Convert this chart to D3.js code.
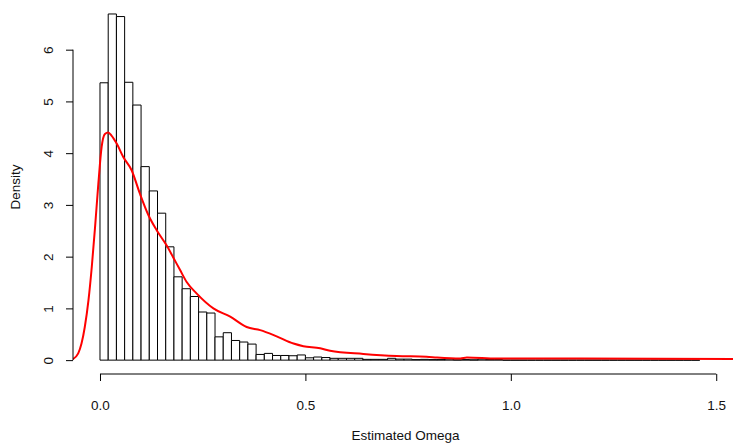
<!DOCTYPE html>
<html>
<head>
<meta charset="utf-8">
<script src="https://cdn.jsdelivr.net/npm/d3@7"></script>
<style>
  body { margin: 0; background: #fff; }
  svg { display: block; font-family: "Liberation Sans", Arial, sans-serif; }
</style>
</head>
<body>
<div id="chart"></div>
<script>
// histogram: bins of width 0.02 starting at 0
const binStart = 0;
const binWidth = 0.02;
const densities = [
  5.36, 6.69, 6.64, 5.37, 4.93, 3.74, 3.27, 2.84, 2.19, 1.61,
  1.38, 1.23, 0.93, 0.91, 0.45, 0.53, 0.38, 0.35, 0.31, 0.11,
  0.13, 0.09, 0.09, 0.085, 0.10, 0.045, 0.06, 0.05, 0.035, 0.035,
  0.035, 0.035, 0.015, 0.015, 0.015, 0.035, 0.02, 0.02, 0.01, 0.015,
  0.01, 0.01, 0.02, 0.005, 0.01, 0.005, 0.02, 0.01, 0.01, 0,
  0, 0, 0, 0, 0, 0, 0, 0, 0, 0,
  0, 0, 0, 0, 0, 0, 0, 0, 0, 0,
  0, 0, 0
];

// kernel density estimate (red line)
const kdeX = [
  -0.066, -0.053, -0.045, -0.037, -0.028, -0.020, -0.012, -0.004, 0.004, 0.012,
  0.020, 0.028, 0.041, 0.057, 0.077, 0.097, 0.118, 0.138, 0.162, 0.178,
  0.195, 0.211, 0.235, 0.276, 0.317, 0.357, 0.390, 0.430, 0.471, 0.495,
  0.536, 0.560, 0.641, 0.722, 0.795, 0.820, 0.877, 0.893, 0.966, 1.170, 1.560
];
const kdeY = [
  0.02, 0.13, 0.32, 0.64, 1.16, 1.80, 2.57, 3.41, 4.12, 4.37,
  4.40, 4.34, 4.18, 3.92, 3.67, 3.22, 2.80, 2.51, 2.22, 1.99,
  1.74, 1.51, 1.29, 1.00, 0.84, 0.64, 0.58, 0.46, 0.32, 0.27,
  0.23, 0.18, 0.12, 0.08, 0.065, 0.05, 0.03, 0.05, 0.03, 0.03, 0.02
];

const xTicks = [0, 0.5, 1, 1.5];
const yTicks = [0, 1, 2, 3, 4, 5, 6];

const width = 733;
const height = 443;
const fontSize = 13.5;

// plot region (R style, 4% padding on the ranges)
const plot = { left: 73, right: 738, top: 0, bottom: 374 };

const x = d3.scaleLinear().domain([-0.0657, 1.553]).range([plot.left, plot.right]);
const y = d3.scaleLinear().domain([-0.268, 6.96]).range([plot.bottom, plot.top]);

const svg = d3.select('#chart')
  .append('svg')
  .attr('width', width)
  .attr('height', height);

svg.append('defs').append('clipPath').attr('id', 'plotclip')
  .append('rect')
  .attr('x', plot.left)
  .attr('y', plot.top)
  .attr('width', plot.right - plot.left)
  .attr('height', plot.bottom - plot.top);

// bars (drawn as closed paths so that empty bins still show on the baseline)
const bins = densities.map((d, i) => ({ x0: binStart + i * binWidth, x1: binStart + (i + 1) * binWidth, d }));

svg.append('g')
  .selectAll('path')
  .data(bins)
  .join('path')
  .attr('d', (b) => `M${x(b.x0)},${y(0)}V${y(b.d)}H${x(b.x1)}V${y(0)}Z`)
  .attr('fill', 'white')
  .attr('stroke', 'black')
  .attr('stroke-width', 1);

// density line
const line = d3.line().x((d) => x(d[0])).y((d) => y(d[1])).curve(d3.curveMonotoneX);

svg.append('path')
  .datum(kdeX.map((v, i) => [v, kdeY[i]]))
  .attr('clip-path', 'url(#plotclip)')
  .attr('d', line)
  .attr('fill', 'none')
  .attr('stroke', 'red')
  .attr('stroke-width', 2);

// x axis
const xAxis = svg.append('g')
  .attr('transform', `translate(0, ${plot.bottom})`)
  .call(d3.axisBottom(x).tickValues(xTicks).tickFormat(d3.format('.1f'))
    .tickSize(7).tickSizeOuter(0).tickPadding(19));
xAxis.select('.domain').remove();
xAxis.append('line')
  .attr('x1', x(xTicks[0])).attr('x2', x(xTicks[xTicks.length - 1]))
  .attr('stroke', 'black');
xAxis.selectAll('text').attr('font-size', fontSize).attr('fill', '#111');

// y axis
const yAxis = svg.append('g')
  .attr('transform', `translate(${plot.left}, 0)`)
  .call(d3.axisLeft(y).tickValues(yTicks).tickSize(7).tickSizeOuter(0));
yAxis.select('.domain').remove();
yAxis.append('line')
  .attr('y1', y(yTicks[0])).attr('y2', y(yTicks[yTicks.length - 1]))
  .attr('stroke', 'black');
yAxis.selectAll('.tick text')
  .attr('x', null)
  .attr('dy', null)
  .attr('text-anchor', 'middle')
  .attr('transform', 'translate(-20, 0) rotate(-90)')
  .attr('font-size', fontSize)
  .attr('fill', '#111');

// axis titles
svg.append('text')
  .attr('x', (plot.left + plot.right) / 2)
  .attr('y', 440)
  .attr('text-anchor', 'middle')
  .attr('font-size', fontSize)
  .attr('fill', '#111')
  .text('Estimated Omega');

svg.append('text')
  .attr('transform', `translate(20, ${(plot.top + plot.bottom) / 2}) rotate(-90)`)
  .attr('text-anchor', 'middle')
  .attr('font-size', fontSize)
  .attr('fill', '#111')
  .text('Density');
</script>
</body>
</html>
